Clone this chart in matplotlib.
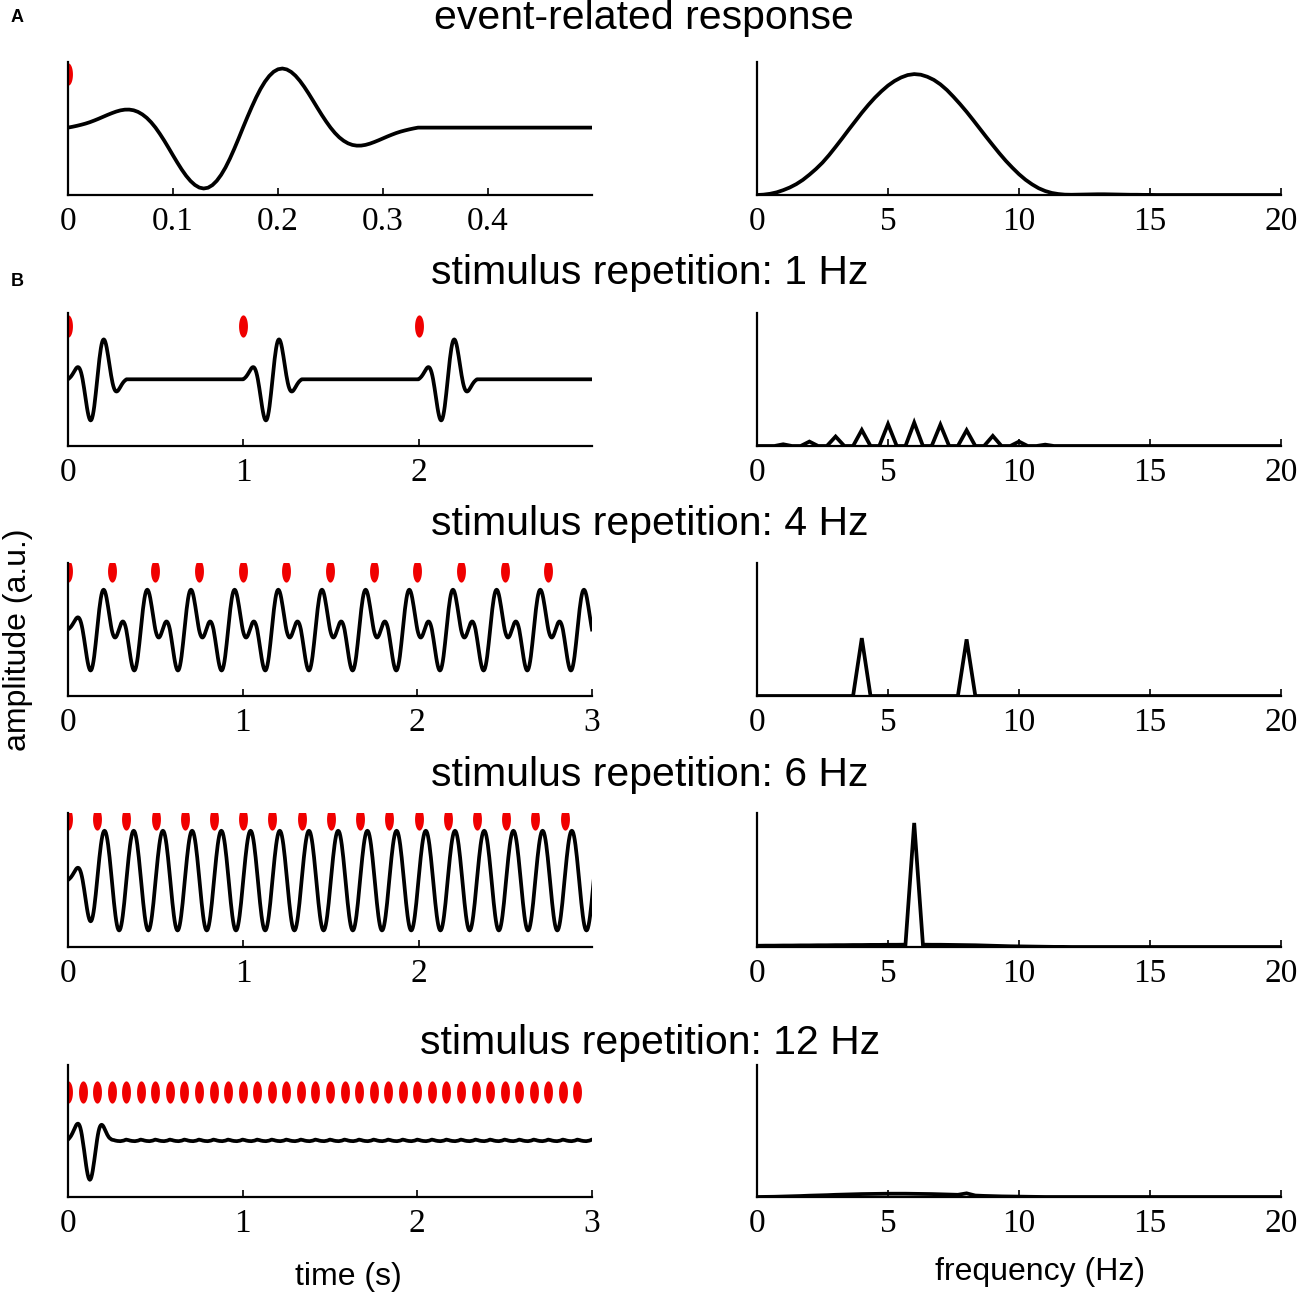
import numpy as np
import matplotlib
matplotlib.use("Agg")
import matplotlib.pyplot as plt
from matplotlib.path import Path

# ---------------- data ----------------
# event-related response sampled at 240 Hz, t = 0 .. 0.333 s (panel A, left)
erp_fs = 240
erp = [0.000, 0.014, 0.030, 0.048, 0.068, 0.092, 0.120, 0.150, 0.182, 0.214,
       0.244, 0.271, 0.292, 0.304, 0.305, 0.293, 0.266, 0.223, 0.165, 0.090,
       0.000, -0.106, -0.221, -0.344, -0.470, -0.593, -0.710, -0.815, -0.903, -0.970,
       -1.014, -1.030, -1.017, -0.973, -0.900, -0.799, -0.674, -0.525, -0.359, -0.183,
       0.000, 0.178, 0.349, 0.510, 0.654, 0.776, 0.874, 0.945, 0.987, 1.000,
       0.984, 0.942, 0.877, 0.791, 0.689, 0.576, 0.456, 0.334, 0.215, 0.103,
       0.000, -0.090, -0.165, -0.223, -0.266, -0.293, -0.305, -0.304, -0.292, -0.271,
       -0.244, -0.214, -0.182, -0.150, -0.120, -0.092, -0.068, -0.048, -0.030, -0.014,
       0.000]

# stimulus repetition rates (Hz) of the four B rows
rates_hz = [1, 4, 6, 12]
duration_s = 3.0

# spectrum of the single response (panel A, right), 0.25 Hz steps, 0..20 Hz
erp_spec_step_hz = 0.25
erp_spec = [0.000, 0.003, 0.010, 0.022, 0.040, 0.062, 0.090, 0.125, 0.168, 0.215,
            0.268, 0.330, 0.398, 0.468, 0.540, 0.610, 0.680, 0.745, 0.805, 0.858,
            0.905, 0.943, 0.972, 0.992, 1.000, 0.995, 0.978, 0.952, 0.915, 0.868,
            0.812, 0.752, 0.688, 0.620, 0.550, 0.480, 0.412, 0.345, 0.282, 0.225,
            0.172, 0.126, 0.088, 0.056, 0.033, 0.017, 0.008, 0.003, 0.002, 0.003,
            0.004, 0.005, 0.006, 0.006, 0.005, 0.004, 0.003, 0.002, 0.002, 0.001,
            0.001, 0.0, 0.0, 0.0, 0.0, 0.0, 0.0, 0.0, 0.0, 0.0,
            0.0, 0.0, 0.0, 0.0, 0.0, 0.0, 0.0, 0.0, 0.0, 0.0,
            0.0]

# spectra of the repeated stimulation rows, 1/3 Hz bins, 0..20 Hz
spec_bin_hz = 1.0 / 3.0
spec_1hz = [0, 0, 0,  0.014, 0, 0,  0.036, 0, 0,  0.077, 0, 0,
            0.130, 0, 0,  0.178, 0, 0,  0.190, 0, 0,  0.173, 0, 0,
            0.128, 0, 0,  0.082, 0, 0,  0.036, 0, 0,  0.011, 0, 0,
            0, 0, 0,  0, 0, 0,  0, 0, 0,  0, 0, 0,
            0, 0, 0,  0, 0, 0,  0, 0, 0,  0, 0, 0,  0]
spec_4hz = [0, 0, 0,  0, 0, 0,  0, 0, 0,  0, 0, 0,
            0.47, 0, 0,  0, 0, 0,  0, 0, 0,  0, 0, 0,
            0.46, 0, 0,  0, 0, 0,  0, 0, 0,  0, 0, 0,
            0, 0, 0,  0, 0, 0,  0, 0, 0,  0, 0, 0,
            0, 0, 0,  0, 0, 0,  0, 0, 0,  0, 0, 0,  0]
spec_6hz = [0.010, 0.011, 0.011,  0.012, 0.012, 0.013,  0.013, 0.014, 0.014,
            0.015, 0.015, 0.016,  0.016, 0.017, 0.017,  0.018, 0.018, 0.019,
            1.000, 0.019, 0.018,  0.018, 0.017, 0.016,  0.015, 0.014, 0.012,
            0.010, 0.008, 0.006,  0.005, 0.004, 0.003,  0.002, 0.001, 0.001,
            0, 0, 0,  0, 0, 0,  0, 0, 0,  0, 0, 0,
            0, 0, 0,  0, 0, 0,  0, 0, 0,  0, 0, 0,  0]
spec_12hz = [0.000, 0.001, 0.002,  0.004, 0.006, 0.008,  0.011, 0.013, 0.015,
             0.018, 0.020, 0.022,  0.024, 0.025, 0.026,  0.027, 0.027, 0.027,
             0.026, 0.025, 0.024,  0.022, 0.020, 0.018,  0.030, 0.012, 0.009,
             0.007, 0.005, 0.004,  0.003, 0.002, 0.001,  0, 0, 0,
             0, 0, 0,  0, 0, 0,  0, 0, 0,  0, 0, 0,
             0, 0, 0,  0, 0, 0,  0, 0, 0,  0, 0, 0,  0]
row_specs = [spec_1hz, spec_4hz, spec_6hz, spec_12hz]

titles = ["event-related response",
          "stimulus repetition: 1 Hz", "stimulus repetition: 4 Hz",
          "stimulus repetition: 6 Hz", "stimulus repetition: 12 Hz"]

# ---------------- styling / layout ----------------
W, H = 1300, 1299
fig = plt.figure(figsize=(W / 100, H / 100), dpi=100)

sans = ["Liberation Sans", "DejaVu Sans"]
serif = ["Liberation Serif", "DejaVu Serif"]

left_x, right_x, col_w = 68, 757, 524
row_px = [(62, 195), (313, 446), (563, 696), (813, 947), (1065, 1197)]
title_y = [18, 273, 524, 775, 1043]
left_ylims = [(-1.14, 1.11), (-1.67, 1.66), (-1.67, 1.67), (-1.67, 1.67), (-1.10, 1.43)]
dot_y = [0.90, 1.33, 1.48, 1.52, 0.92]
left_xlims = [(0, 0.499), (0, 2.99), (0, 3.0), (0, 2.99), (0, 3.0)]
left_ticks = [[0, 0.1, 0.2, 0.3, 0.4], [0, 1, 2], [0, 1, 2, 3], [0, 1, 2], [0, 1, 2, 3]]
right_ylims = [(0, 1.10), (0, 1.08), (0, 1.08), (0, 1.08), (0, 1.08)]

theta = np.linspace(0, 2 * np.pi, 60)
ellipse = Path(np.column_stack([0.4 * np.cos(theta), np.sin(theta)]), closed=True)
RED = "#f00000"
LW = 2.7


def make_ax(x, top, bot):
    ax = fig.add_axes([x / W, 1 - bot / H, col_w / W, (bot - top) / H])
    for s in ("top", "right"):
        ax.spines[s].set_visible(False)
    for s in ("left", "bottom"):
        ax.spines[s].set_linewidth(1.6)
    ax.tick_params(axis="x", direction="in", length=5, width=1.2, pad=8,
                   labelsize=24)
    ax.tick_params(axis="y", left=False, labelleft=False)
    return ax


def style_ticks(ax, ticks, labels):
    ax.set_xticks(ticks)
    ax.set_xticklabels(labels, fontfamily=serif, fontsize=24)


# ---------------- time-domain signals ----------------
erp_arr = np.array(erp)
t_a = np.arange(int(round(0.5 * erp_fs)) + 1) / erp_fs
sig_a = np.zeros(len(t_a))
sig_a[:len(erp_arr)] = erp_arr

t_rows = np.arange(int(round(duration_s * erp_fs)) + 1) / erp_fs
signals = [sig_a]
onsets = [np.array([0.0])]
times = [t_a]
for rate in rates_hz:
    n = len(t_rows)
    step = int(round(erp_fs / rate))
    starts = list(range(0, n - 1, step))
    sig = np.zeros(n)
    for s0 in starts:
        seg = erp_arr[:min(len(erp_arr), n - s0)]
        sig[s0:s0 + len(seg)] += seg
    signals.append(sig)
    onsets.append(t_rows[starts])
    times.append(t_rows)

spectra_x = [np.arange(len(erp_spec)) * erp_spec_step_hz] + \
            [np.arange(len(s)) * spec_bin_hz for s in row_specs]
spectra_y = [erp_spec] + row_specs

for i in range(5):
    top, bot = row_px[i]
    # left: waveform
    ax = make_ax(left_x, top, bot)
    ax.plot(times[i], signals[i], color="black", lw=LW, solid_joinstyle="round")
    ax.plot(onsets[i], np.full(len(onsets[i]), dot_y[i]), linestyle="none",
            marker=ellipse, markersize=16, color=RED, markeredgewidth=0)
    ax.set_xlim(*left_xlims[i])
    ax.set_ylim(*left_ylims[i])
    lbls = ["0" if v == 0 else (f"{v:g}") for v in left_ticks[i]]
    style_ticks(ax, left_ticks[i], lbls)

    # right: spectrum
    axr = make_ax(right_x, top, bot)
    axr.plot(spectra_x[i], spectra_y[i], color="black", lw=LW,
             solid_joinstyle="miter")
    axr.set_xlim(0, 20)
    axr.set_ylim(*right_ylims[i])
    style_ticks(axr, [0, 5, 10, 15, 20], ["0", "5", "10", "15", "20"])

    # title
    fig.text(0.495 if i == 0 else 0.5, 1 - title_y[i] / H, titles[i],
             ha="center", va="center", fontsize=29.5, family=sans)

fig.text(17 / W, 1 - 17 / H, "A", ha="center", va="center", fontsize=13,
         fontweight="bold", family=sans)
fig.text(17 / W, 1 - 281 / H, "B", ha="center", va="center", fontsize=13,
         fontweight="bold", family=sans)
fig.text(18 / W, 1 - 640 / H, "amplitude (a.u.)", rotation=90, ha="center",
         va="center", fontsize=23, family=sans)
fig.text(348 / W, 1 - 1277 / H, "time (s)", ha="center", va="center",
         fontsize=23, family=sans)
fig.text(1040 / W, 1 - 1272 / H, "frequency (Hz)", ha="center", va="center",
         fontsize=23, family=sans)

fig.savefig("out.png", dpi=100)
